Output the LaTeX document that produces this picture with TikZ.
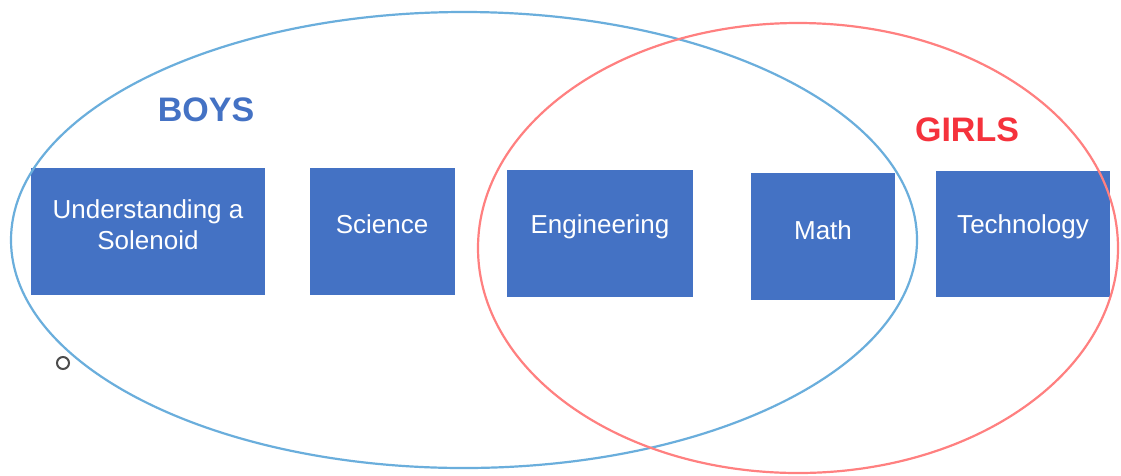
\documentclass[tikz,border=0pt]{standalone}
\usepackage{fontspec}
\setmainfont{Liberation Sans}
\begin{document}
\begin{tikzpicture}[x=1pt,y=-1pt,
  topic/.style={draw=none,fill=boxblue,inner sep=0pt,anchor=north west},
  topictext/.style={text=white,font=\fontsize{26}{31}\selectfont,align=center,inner sep=0pt},
  setlabel/.style={font=\fontsize{34}{40}\selectfont\bfseries,inner sep=0pt},
  setline/.style={line width=2.2pt}]
\definecolor{boxblue}{HTML}{4472C4}
\definecolor{boysline}{HTML}{6AAEDC}
\definecolor{girlsline}{HTML}{FF8080}
\definecolor{girlstext}{HTML}{F5323C}
\useasboundingbox (0,0) rectangle (1121,475);
\fill[white] (0,0) rectangle (1121,475);

% topic boxes
\node[topic,minimum width=234pt,minimum height=127pt] (b1) at (31,168) {};
\node[topic,minimum width=145pt,minimum height=127pt] (b2) at (310,168) {};
\node[topic,minimum width=186pt,minimum height=127pt] (b3) at (507,170) {};
\node[topic,minimum width=144pt,minimum height=127pt] (b4) at (751,173) {};
\node[topic,minimum width=174pt,minimum height=126pt] (b5) at (936,171) {};

\node[topictext] (t1) at (148,225) {Understanding a\\Solenoid};
\node[topictext] (t2) at (382,224) {Science};
\node[topictext] (t3) at (600,227) {Engineering};
\node[topictext] (t4) at (823,230) {Math};
\node[topictext] (t5) at (1023,227) {Technology};

% the two sets
\draw[setline,draw=boysline] (464,240) ellipse [x radius=453, y radius=228];
\draw[setline,draw=girlsline] (798,248) ellipse [x radius=320, y radius=225];

\node[setlabel,text=boxblue] (boys) at (206,110) {BOYS};
\node[setlabel,text=girlstext] (girls) at (967,130) {GIRLS};

% small marker
\node[circle,draw=black!70,line width=2pt,minimum size=12pt,inner sep=0pt] (dot) at (63,363) {};
\end{tikzpicture}
\end{document}
